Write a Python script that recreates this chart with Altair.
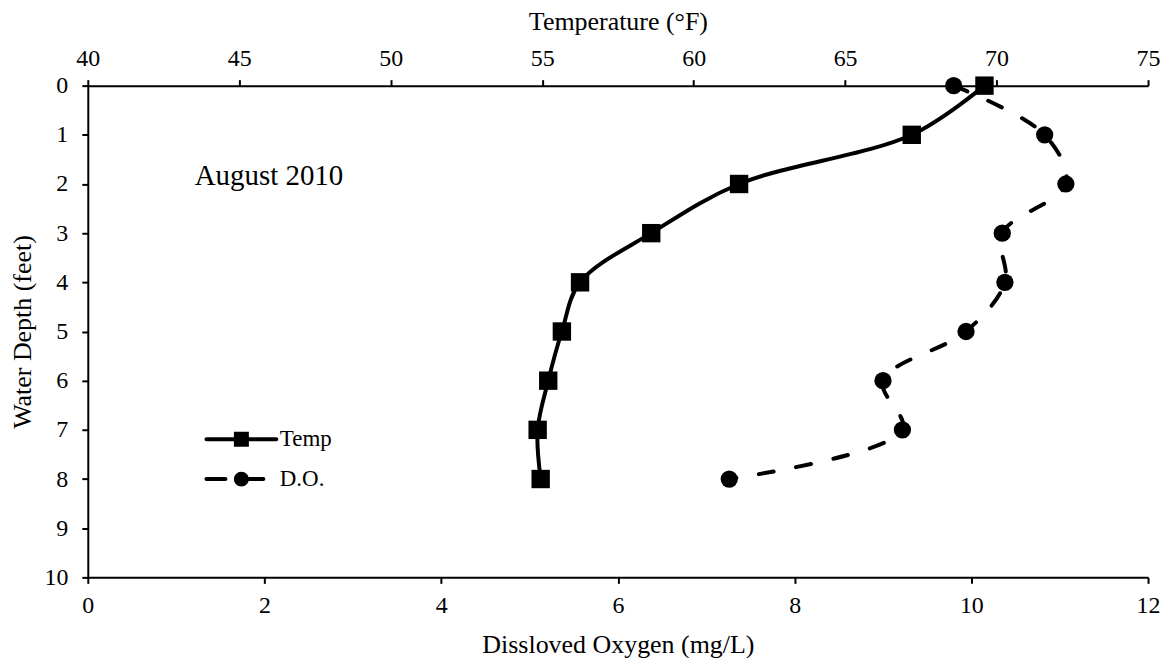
import altair as alt
import pandas as pd

# ---- data ----
depth_ft = [0, 1, 2, 3, 4, 5, 6, 7, 8]
temp_f = [69.6, 67.2, 61.5, 58.6, 56.25, 55.65, 55.2, 54.85, 54.95]
do_mgl = [9.8, 10.83, 11.07, 10.35, 10.38, 9.94, 9.0, 9.22, 7.26]
series_names = ["Temp", "D.O."]
temp_ticks = [40, 45, 50, 55, 60, 65, 70, 75]
do_ticks = [0, 2, 4, 6, 8, 10, 12]
depth_ticks = [0, 1, 2, 3, 4, 5, 6, 7, 8, 9, 10]
note_text = ["August 2010"]
note_do = [1.21]
note_depth = [2.03]

FONT = "Liberation Serif"

temp_df = pd.DataFrame({"depth": depth_ft, "temp": temp_f})
do_df = pd.DataFrame({"depth": depth_ft, "do": do_mgl})
note_df = pd.DataFrame({"do": note_do, "depth": note_depth, "label": note_text})
legend_df = pd.DataFrame({"series": series_names})

# legend glyphs: line + marker (custom symbol paths, unit = sqrt(size)/2)
temp_glyph = ("M-4.667,-0.267H4.667A0.267,0.267 0 0 1 4.667,0.267H-4.667"
              "A0.267,0.267 0 0 1 -4.667,-0.267Z M-1,-1H1V1H-1Z")
do_glyph = ("M-4.667,-0.267H-2.133A0.267,0.267 0 0 1 -2.133,0.267H-4.667"
            "A0.267,0.267 0 0 1 -4.667,-0.267Z "
            "M0,-0.267H2.933A0.267,0.267 0 0 1 2.933,0.267H0Z "
            "M-1,0A1,1 0 1 1 1,0A1,1 0 1 1 -1,0Z")

y_enc = alt.Y(
    "depth:Q",
    scale=alt.Scale(domain=[0, 10], reverse=True, nice=False, zero=False),
    axis=alt.Axis(values=depth_ticks, title="Water Depth (feet)", labelPadding=14,
                  titleX=-57, titleBaseline="alphabetic"),
)

x_temp = alt.X(
    "temp:Q",
    scale=alt.Scale(domain=[40, 75], nice=False, zero=False),
    axis=alt.Axis(orient="top", values=temp_ticks, title="Temperature (°F)",
                  labelBaseline="alphabetic", labelPadding=14,
                  titleY=-56, titleBaseline="alphabetic"),
)

x_do = alt.X(
    "do:Q",
    scale=alt.Scale(domain=[0, 12], nice=False, zero=False),
    axis=alt.Axis(orient="bottom", values=do_ticks, title="Dissloved Oxygen (mg/L)",
                  labelBaseline="alphabetic", labelPadding=29,
                  titleY=75, titleBaseline="alphabetic"),
)

temp_line = alt.Chart().mark_line(
    color="black", strokeWidth=4, interpolate="catmull-rom"
).encode(order=alt.Order("depth:Q"))
temp_pts = alt.Chart().mark_point(
    shape="square", filled=True, color="black", size=340, opacity=1, strokeWidth=0
)
temp_layer = alt.layer(temp_line, temp_pts, data=temp_df).encode(x=x_temp, y=y_enc)

do_line = alt.Chart().mark_line(
    color="black", strokeWidth=4, interpolate="catmull-rom",
    strokeDash=[15, 23], strokeCap="round"
).encode(order=alt.Order("depth:Q"))
do_pts = alt.Chart().mark_point(
    shape="circle", filled=True, color="black", size=300, opacity=1, strokeWidth=0
)
note = alt.Chart(note_df).mark_text(
    font=FONT, fontSize=29, color="black", align="left", baseline="alphabetic"
).encode(text="label:N")
do_layer = alt.layer(do_line, do_pts, note, data=do_df).encode(x=x_do, y=y_enc)

legend_layer = alt.Chart(legend_df).transform_filter("false").mark_point(
    filled=True, color="black", opacity=1, strokeWidth=0
).encode(
    shape=alt.Shape(
        "series:N",
        scale=alt.Scale(domain=series_names, range=[temp_glyph, do_glyph]),
        legend=alt.Legend(
            orient="none", legendX=142.5, legendY=343, title=None,
            labelFont=FONT, labelFontSize=23, labelColor="black",
            labelOffset=27, symbolSize=225, rowPadding=16,
            symbolStrokeWidth=0, symbolFillColor="black", symbolOpacity=1,
            padding=0,
        ),
    )
)

chart = alt.layer(do_layer, temp_layer, legend_layer).resolve_scale(
    x="independent"
).properties(
    width=1063,
    height=493,
    background="white",
    autosize=alt.AutoSizeParams(type="none"),
    padding={"left": 80, "top": 77, "right": 16, "bottom": 80},
).configure_view(stroke=None).configure_axis(
    grid=False,
    domainColor="black", domainWidth=2,
    tickColor="black", tickWidth=2, tickSize=6,
    labelFont=FONT, labelFontSize=24, labelColor="black", labelFlush=False,
    titleFont=FONT, titleFontSize=26, titleFontWeight="normal", titleColor="black",
)

chart.save("out.html", embed_options={"renderer": "svg", "actions": False})
